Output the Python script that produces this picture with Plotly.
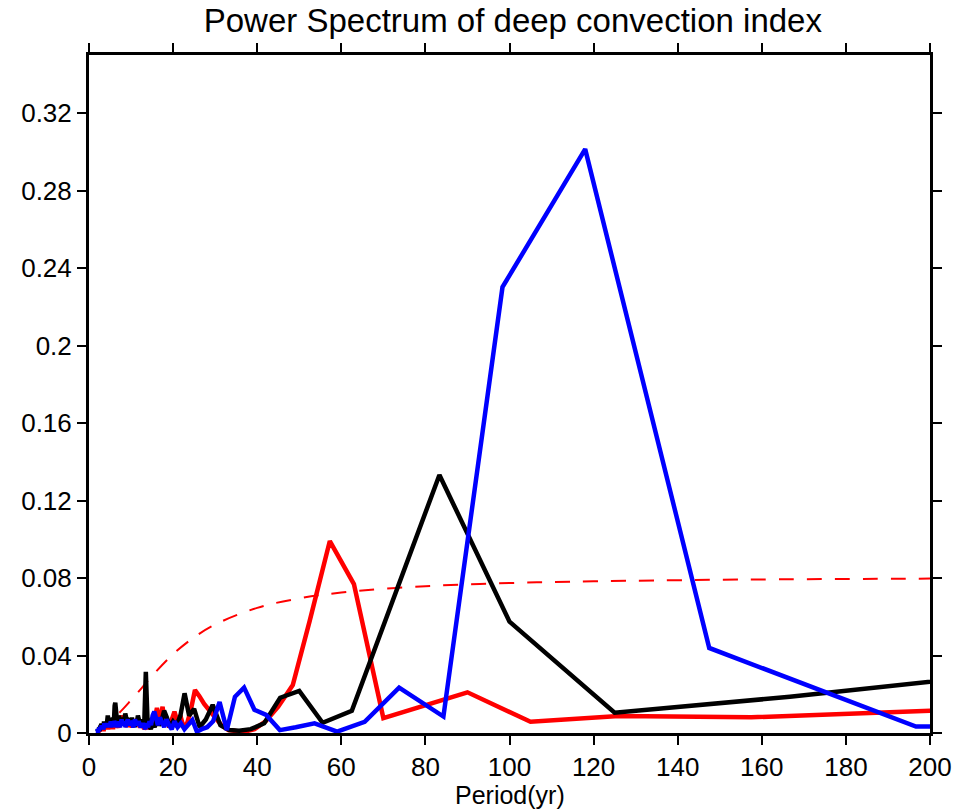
import plotly.graph_objects as go

# ---------------- data ----------------
black_length = 500
black_harmonic = list(range(2, 51)) + list(range(52, 101, 2)) + list(range(104, 249, 4))
black_power = [
    0.038, 0.0187, 0.0105, 0.0575, 0.1332, 0.064, 0.0115, 0.0053, 0.0217, 0.0182,
    0.005, 0.002, 0.0012, 0.0015, 0.004, 0.0145, 0.007, 0.003, 0.0125, 0.009,
    0.0205, 0.009, 0.004, 0.006, 0.003, 0.008, 0.0115, 0.006, 0.004, 0.007,
    0.003, 0.005, 0.002, 0.004, 0.008, 0.0316, 0.006, 0.003, 0.007, 0.004,
    0.006, 0.009, 0.005, 0.007, 0.003, 0.006, 0.004, 0.008, 0.005,
    0.006, 0.004, 0.007, 0.010, 0.006, 0.008, 0.004, 0.007, 0.005, 0.009,
    0.006, 0.004, 0.008, 0.012, 0.0157, 0.014, 0.007, 0.005, 0.008, 0.004,
    0.006, 0.007, 0.003, 0.005, 0.006,
    0.005, 0.007, 0.009, 0.006, 0.004, 0.006, 0.003, 0.005, 0.004, 0.006,
    0.003, 0.004, 0.005, 0.002, 0.004, 0.003, 0.005, 0.002, 0.003, 0.004,
    0.002, 0.003, 0.002, 0.003, 0.001, 0.002, 0.003, 0.001, 0.002, 0.001,
    0.002, 0.001, 0.001, 0.002, 0.001, 0.001, 0.001,
]

red_length = 630
red_harmonic = list(range(3, 46)) + list(range(46, 91, 2)) + list(range(94, 315, 4))
red_power = [
    0.0123, 0.0081, 0.0088, 0.0058, 0.021, 0.0135, 0.0077, 0.0769, 0.0991, 0.058,
    0.0248, 0.0136, 0.006, 0.002, 0.0007, 0.001, 0.0015, 0.004, 0.008, 0.011,
    0.015, 0.019, 0.0222, 0.012, 0.005, 0.003, 0.009, 0.006, 0.011, 0.007,
    0.003, 0.006, 0.004, 0.0136, 0.009, 0.005, 0.013, 0.008, 0.004, 0.006,
    0.003, 0.005, 0.002,
    0.004, 0.002, 0.006, 0.003, 0.005, 0.007, 0.004, 0.006, 0.003, 0.005,
    0.004, 0.006, 0.003, 0.007, 0.005, 0.004, 0.006, 0.008, 0.009, 0.006,
    0.004, 0.005, 0.003,
    0.004, 0.006, 0.003, 0.005, 0.002, 0.004, 0.003, 0.005, 0.002, 0.004,
    0.003, 0.002, 0.004, 0.003, 0.002, 0.003, 0.004, 0.002, 0.003, 0.002,
    0.003, 0.002, 0.001, 0.003, 0.002, 0.002, 0.001, 0.003, 0.002, 0.001,
    0.002, 0.002, 0.001, 0.002, 0.001, 0.002, 0.001, 0.001, 0.002, 0.001,
    0.001, 0.002, 0.001, 0.001, 0.001, 0.002, 0.001, 0.001, 0.001, 0.001,
    0.001, 0.001, 0.001, 0.001, 0.001, 0.001,
]

blue_length = 590
blue_harmonic = list(range(2, 45)) + list(range(46, 91, 2)) + list(range(94, 295, 4))
blue_power = [
    0.004, 0.0033, 0.0439, 0.3014, 0.2302, 0.0085, 0.0234, 0.0058, 0.0007, 0.005,
    0.003, 0.0015, 0.0093, 0.012, 0.0234, 0.0187, 0.0015, 0.016, 0.006, 0.003,
    0.002, 0.0007, 0.0067, 0.004, 0.002, 0.005, 0.003, 0.006, 0.002, 0.004,
    0.007, 0.003, 0.005, 0.008, 0.004, 0.007, 0.011, 0.009, 0.004, 0.006,
    0.003, 0.005, 0.002,
    0.005, 0.003, 0.006, 0.004, 0.007, 0.003, 0.005, 0.006, 0.004, 0.007,
    0.005, 0.003, 0.006, 0.005, 0.004, 0.007, 0.005, 0.003, 0.006, 0.004,
    0.005, 0.006, 0.003,
    0.005, 0.006, 0.004, 0.005, 0.003, 0.006, 0.004, 0.005, 0.003, 0.004,
    0.005, 0.003, 0.004, 0.005, 0.003, 0.004, 0.003, 0.005, 0.003, 0.004,
    0.002, 0.004, 0.003, 0.004, 0.002, 0.003, 0.004, 0.002, 0.003, 0.002,
    0.003, 0.002, 0.003, 0.002, 0.002, 0.003, 0.002, 0.002, 0.001, 0.002,
    0.002, 0.001, 0.002, 0.001, 0.002, 0.001, 0.001, 0.002, 0.001, 0.001,
    0.001,
]

rednoise_period = [2, 3, 4, 5, 6, 8, 10, 12, 15, 20, 25, 30, 40, 50, 60, 80, 100, 120, 150, 200]
rednoise_power = [0.0020, 0.0026, 0.0038, 0.0054, 0.0078, 0.0122, 0.0170, 0.0219, 0.0295, 0.0407,
                  0.0494, 0.0560, 0.0646, 0.0695, 0.0725, 0.0758, 0.0774, 0.0783, 0.0791, 0.0797]

y_tickvals = [0, 0.04, 0.08, 0.12, 0.16, 0.2, 0.24, 0.28, 0.32]
y_ticktext = ["0", "0.04", "0.08", "0.12", "0.16", "0.2", "0.24", "0.28", "0.32"]
x_tickvals = [0, 20, 40, 60, 80, 100, 120, 140, 160, 180, 200]


def periods(length, harmonics):
    return [length / k for k in harmonics]


FONT = "Liberation Sans, Arial, Helvetica, sans-serif"

fig = go.Figure()
fig.add_trace(go.Scatter(x=rednoise_period, y=rednoise_power, mode="lines",
                         line=dict(color="#ff0000", width=2, dash="15px,13px", shape="spline"),
                         showlegend=False))
fig.add_trace(go.Scatter(x=periods(red_length, red_harmonic), y=red_power, mode="lines",
                         line=dict(color="#ff0000", width=4.5), showlegend=False))
fig.add_trace(go.Scatter(x=periods(black_length, black_harmonic), y=black_power, mode="lines",
                         line=dict(color="#000000", width=4.5), showlegend=False))
fig.add_trace(go.Scatter(x=periods(blue_length, blue_harmonic), y=blue_power, mode="lines",
                         line=dict(color="#0000ff", width=4.5), showlegend=False))

axis_common = dict(showline=True, linecolor="black", linewidth=3, mirror="ticks",
                   ticks="outside", ticklen=9, tickwidth=2, tickcolor="black",
                   showgrid=False, zeroline=False,
                   tickfont=dict(family=FONT, size=26, color="black"))

fig.update_xaxes(range=[0, 200], tickvals=x_tickvals, **axis_common)
fig.update_yaxes(range=[0, 0.35], tickvals=y_tickvals, ticktext=y_ticktext, **axis_common)

fig.update_layout(
    width=964, height=812,
    margin=dict(l=89, r=29, t=55, b=79),
    plot_bgcolor="white", paper_bgcolor="white",
    hovermode=False,
    title=dict(text="Power Spectrum of deep convection index", x=0.532, xanchor="center",
               y=0.975, yanchor="middle", yref="container",
               font=dict(family=FONT, size=33, color="black")),
    annotations=[dict(text="Period(yr)", x=0.5, xref="paper", y=-0.0914, yref="paper",
                      xanchor="center", yanchor="middle", showarrow=False,
                      font=dict(family=FONT, size=25, color="black"))],
)

fig.write_html("out.html", config={"displayModeBar": False},
               post_script="document.body.style.margin='0';")
